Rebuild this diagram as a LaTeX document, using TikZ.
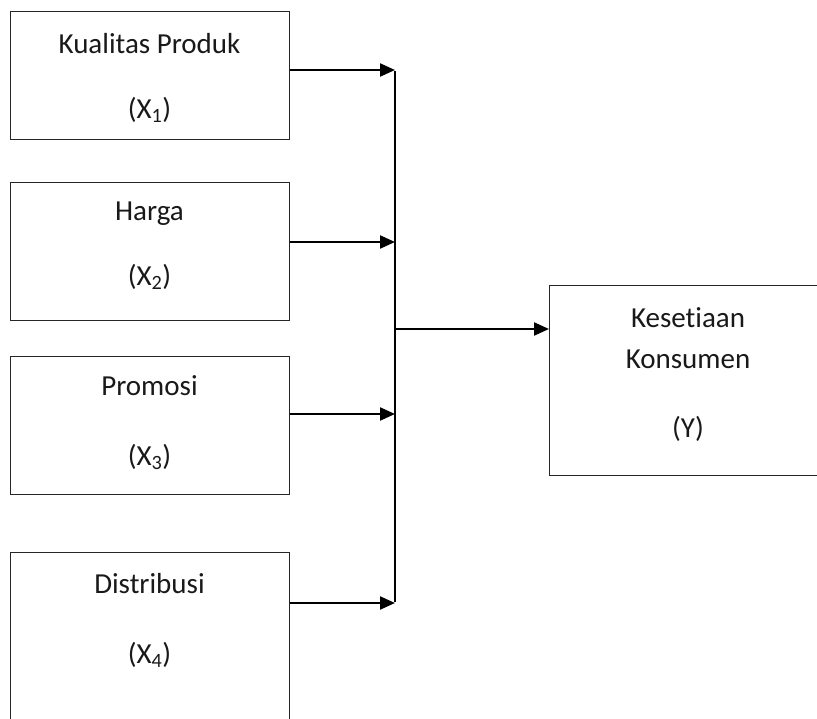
\documentclass[tikz,border=0pt]{standalone}
\usepackage{fontspec}
\setmainfont[Ligatures={NoCommon}]{Carlito}
\usetikzlibrary{arrows.meta}
\tikzset{
  box/.style={draw=black!85, line width=1.4pt, inner sep=0pt, anchor=north west},
  lbl/.style={font=\fontsize{29}{34}\selectfont, inner sep=0pt, anchor=center, text=black!90},
  conn/.style={line width=2.2pt, -{Triangle[length=15pt,width=13pt]}},
  bus/.style={line width=2.2pt}
}
\begin{document}
\begin{tikzpicture}[x=1pt,y=-1pt]
\useasboundingbox (0,0) rectangle (817,719);
\clip (0,0) rectangle (817,719);
% boxes
\node[box, minimum width=279pt, minimum height=128pt] (b1) at (10,11) {};
\node[box, minimum width=279pt, minimum height=138pt] (b2) at (10,182) {};
\node[box, minimum width=279pt, minimum height=138pt] (b3) at (10,356) {};
\node[box, minimum width=279pt, minimum height=210pt] (b4) at (10,552) {};
\node[box, minimum width=278pt, minimum height=190pt] (y) at (549,285) {};
% labels
\node[lbl] (t1a) at (149.5,44) {Kualitas Produk};
\node[lbl] (t1b) at (149.5,110) {(X\textsubscript{1})};
\node[lbl] (t2a) at (149.5,214) {Harga};
\node[lbl] (t2b) at (149.5,277) {(X\textsubscript{2})};
\node[lbl] (t3a) at (149.5,386) {Promosi};
\node[lbl] (t3b) at (149.5,457) {(X\textsubscript{3})};
\node[lbl] (t4a) at (149.5,584) {Distribusi};
\node[lbl] (t4b) at (149.5,655) {(X\textsubscript{4})};
\node[lbl] (ya) at (688,318) {Kesetiaan};
\node[lbl] (yb) at (688,359) {Konsumen};
\node[lbl] (yc) at (688,429) {(Y)};
% bus coordinates
\coordinate (j1) at (395,70);
\coordinate (j2) at (395,242);
\coordinate (j3) at (395,414);
\coordinate (j4) at (395,603);
\coordinate (jm) at (395,329);
% connectors
\draw[bus] ([yshift=-1.1pt]j1) -- ([yshift=1.1pt]j4);
\draw[conn] (b1.east |- j1) -- (j1);
\draw[conn] (b2.east |- j2) -- (j2);
\draw[conn] (b3.east |- j3) -- (j3);
\draw[conn] (b4.east |- j4) -- (j4);
\draw[conn] (jm) -- (y.west |- jm);
\end{tikzpicture}
\end{document}
